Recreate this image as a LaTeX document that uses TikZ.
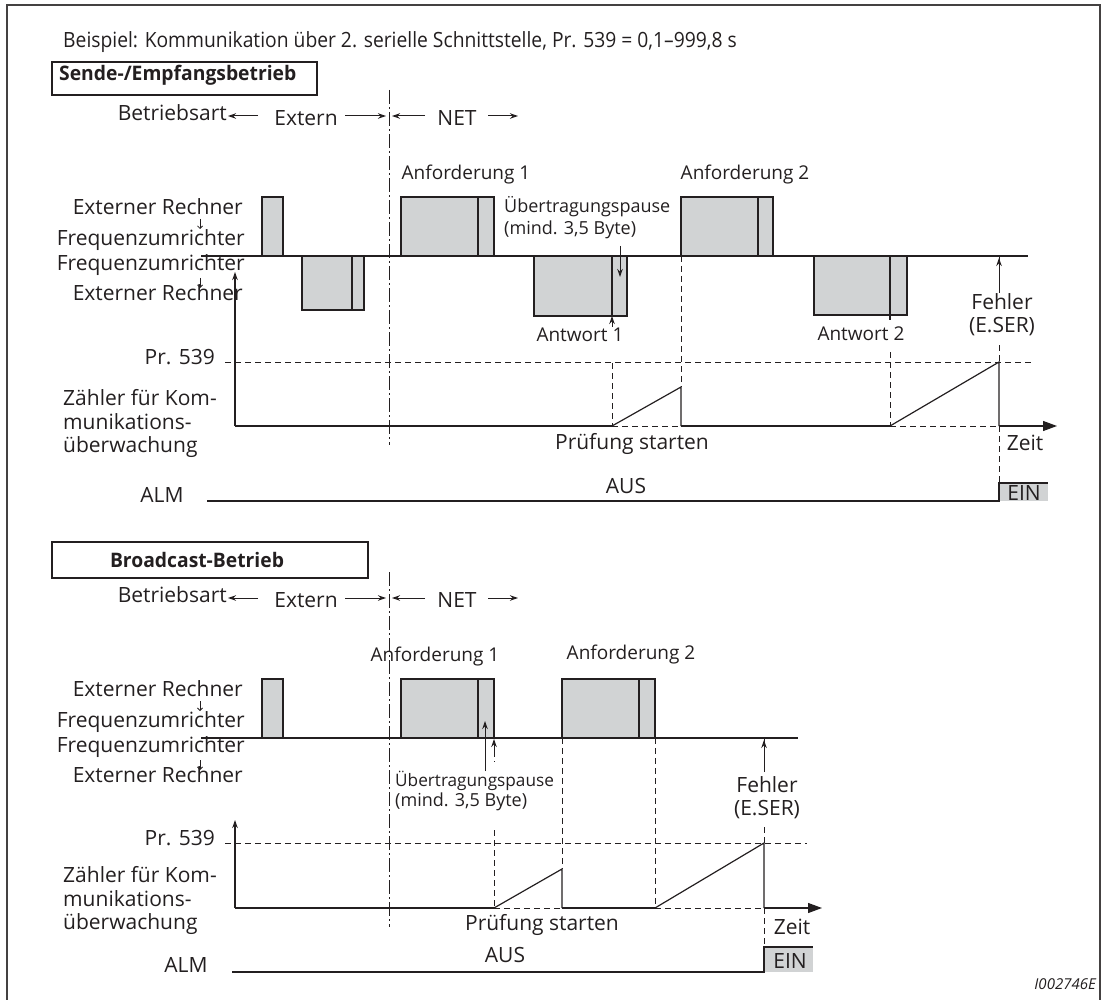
\documentclass[tikz,border=0pt]{standalone}
\usepackage{fontspec}
\setmainfont{Open Sans}
\usetikzlibrary{arrows.meta}
\definecolor{boxgray}{HTML}{D1D3D4}
\definecolor{ink}{HTML}{231F20}
\tikzset{
  sig/.style={draw=ink, line width=1.3pt, fill=boxgray},
  wire/.style={draw=ink, line width=1.2pt},
  dsh/.style={draw=ink, line width=1pt, dash pattern=on 6pt off 4pt},
  dashdot/.style={draw=ink, line width=1pt, dash pattern=on 14pt off 3pt on 2pt off 3pt},
  lbl/.style={font=\fontsize{21}{25}\selectfont, inner sep=0pt, text=ink},
  mlbl/.style={font=\fontsize{19}{23}\selectfont, inner sep=0pt, text=ink},
  sml/.style={font=\fontsize{18}{21}\selectfont, inner sep=0pt, text=ink},
  hdr/.style={font=\fontsize{20}{24}\selectfont\bfseries, inner sep=0pt, text=ink},
  arr/.style={-{Stealth[length=8pt,width=5.5pt]}, line width=1pt, draw=ink},
  tinyarr/.style={-{Straight Barb[length=2.5pt,width=5pt]}, line width=0.8pt, draw=ink},
  bigarr/.style={-{Triangle[length=14pt,width=10pt]}, line width=1.2pt, draw=ink},
  headbox/.style={draw=ink, line width=1.4pt}
}
\begin{document}
\begin{tikzpicture}[x=1pt,y=-1pt]
\useasboundingbox (0,0) rectangle (1103,1000);
% frame
\draw[draw=ink!85, line width=1.5pt] (7,1000) -- (7,5) -- (1100,5) -- (1100,1000);
% title
\node[lbl, anchor=mid west] (title) at (63,45) {\scalebox{0.918}[1]{Beispiel: Kommunikation über 2. serielle Schnittstelle, Pr. 539 = 0,1–999,8 s}};
% ================= UPPER =================
\draw[headbox] (52,62) rectangle (317,95);
\node[hdr, anchor=mid west] (h1) at (59,78) {\scalebox{0.965}[1]{Sende-/Empfangsbetrieb}};
% Betriebsart row
\node[lbl, anchor=mid east] (ba1) at (227,118) {Betriebsart};
\node[lbl] (ex1) at (306,118) {Extern};
\node[lbl] (net1) at (457,118) {NET};
\draw[arr] (258,116) -- (228,116);
\draw[arr] (345,116) -- (386,116);
\draw[arr] (425,116) -- (392,116);
\draw[arr] (488,116) -- (518,116);
\draw[dashdot] (389,90) -- (389,445);
% left labels
\node[lbl, anchor=mid east] (ext1) at (243,212) {Externer Rechner};
\node[lbl, anchor=mid east] (fu1) at (245,243) {Frequenzumrichter};
\node[lbl, anchor=mid east] (fu2) at (245,268) {Frequenzumrichter};
\node[lbl, anchor=mid east] (ext2) at (243,298) {Externer Rechner};
\draw[tinyarr] (200,219) -- (200,229);
\draw[tinyarr] (200,278) -- (200,288);
% signal boxes
\draw[sig] (262,197) rectangle (283,256);
\draw[sig] (302,256) rectangle (364,310); \draw[wire] (352,256) -- (352,310);
\draw[sig] (401,197) rectangle (494,256); \draw[wire] (478,197) -- (478,256);
\draw[sig] (534,256) rectangle (627,316); \draw[wire] (612,256) -- (612,316);
\draw[sig] (681,197) rectangle (773,256); \draw[wire] (758,197) -- (758,256);
\draw[sig] (814,256) rectangle (907,315); \draw[wire] (890,256) -- (890,320);
\draw[wire] (201,256) -- (1028,256);
% labels
\node[mlbl] (an1) at (466,175) {Anforderung 1};
\node[mlbl] (an2) at (745,175) {Anforderung 2};
\node[sml, anchor=mid west] (up1) at (504,210) {Übertragungspause};
\node[sml, anchor=mid west] (up1b) at (504,232) {(mind. 3,5 Byte)};
\draw[arr] (620,246) -- (620,277);
\draw[arr] (612,327) -- (612,316);
\node[mlbl] (aw1) at (580,335) {Antwort 1};
\node[mlbl] (aw2) at (861,334) {Antwort 2};
\node[lbl] (fe1) at (1002,302) {Fehler};
\node[lbl] (es1) at (1002,327) {(E.SER)};
\draw[dsh] (999,256) -- (999,262);
\draw[arr] (999,293) -- (999,258);
\draw[dsh] (999,345) -- (999,362);
% counter
\node[lbl, anchor=mid east] (pr1) at (215,362) {Pr. 539};
\node[lbl, anchor=mid west] (z1a) at (63,403) {Zähler für Kom-};
\node[lbl, anchor=mid west] (z1b) at (63,427) {munikations-};
\node[lbl, anchor=mid west] (z1c) at (63,450) {überwachung};
\draw[dsh] (225,362) -- (1033,362);
\draw[arr, line width=1.2pt] (235,426) -- (235,272);
\draw[wire] (235,426) -- (612,426);
\draw[dsh] (612,426) -- (681,426);
\draw[wire] (681,426) -- (890,426);
\draw[dsh] (890,426) -- (999,426);
\draw[bigarr] (999,426) -- (1057,426);
\draw[dsh] (612,363) -- (612,426);
\draw[dsh] (681,256) -- (681,387);
\draw[dsh] (890,352) -- (890,426);
\draw[wire] (612,426) -- (681,387) -- (681,426);
\draw[wire] (890,426) -- (999,362) -- (999,426);
\draw[dsh] (999,426) -- (999,483);
\node[lbl] (ps1) at (632,444) {Prüfung starten};
\node[lbl] (zt1) at (1025,443) {Zeit};
% ALM
\node[lbl] (alm1) at (162,495) {ALM};
\node[lbl] (aus1) at (626,486) {AUS};
\fill[boxgray] (999,483) rectangle (1048,501);
\draw[wire] (207,501) -- (999,501) -- (999,483) -- (1048,483);
\node[lbl] (ein1) at (1024,493) {EIN};
% ================= LOWER =================
\draw[headbox] (52,542) rectangle (368,578);
\node[hdr] (h2) at (197,560) {\scalebox{0.965}[1]{Broadcast-Betrieb}};
\node[lbl, anchor=mid east] (ba2) at (227,600) {Betriebsart};
\node[lbl] (ex2) at (306,600) {Extern};
\node[lbl] (net2) at (457,600) {NET};
\draw[arr] (258,598) -- (228,598);
\draw[arr] (345,598) -- (386,598);
\draw[arr] (425,598) -- (392,598);
\draw[arr] (488,598) -- (518,598);
\draw[dashdot] (389,572) -- (389,927);
\node[lbl, anchor=mid east] (ext3) at (243,694) {Externer Rechner};
\node[lbl, anchor=mid east] (fu3) at (245,725) {Frequenzumrichter};
\node[lbl, anchor=mid east] (fu4) at (245,750) {Frequenzumrichter};
\node[lbl, anchor=mid east] (ext4) at (243,780) {Externer Rechner};
\draw[tinyarr] (200,701) -- (200,711);
\draw[tinyarr] (200,760) -- (200,770);
\draw[sig] (262,679) rectangle (283,738);
\draw[sig] (401,679) rectangle (494,738); \draw[wire] (478,679) -- (478,738);
\draw[sig] (562,679) rectangle (655,738); \draw[wire] (639,679) -- (639,738);
\draw[wire] (201,738) -- (798,738);
\node[mlbl] (an3) at (435,657) {Anforderung 1};
\node[mlbl] (an4) at (631,655) {Anforderung 2};
\draw[arr] (485,771) -- (485,721);
\draw[arr] (494,751) -- (494,739);
\draw[dsh] (494,751) -- (494,762);
\node[sml, font=\fontsize{17.2}{21}\selectfont, anchor=mid west] (up2) at (395,784) {Übertragungspause};
\node[sml, anchor=mid west] (up2b) at (395,804) {(mind. 3,5 Byte)};
\node[lbl] (fe2) at (767,785) {Fehler};
\node[lbl] (es2) at (767,810) {(E.SER)};
\draw[dsh] (764,738) -- (764,744);
\draw[arr] (764,772) -- (764,740);
\draw[dsh] (764,827) -- (764,843);
% counter lower
\node[lbl, anchor=mid east] (pr2) at (215,843) {Pr. 539};
\node[lbl, anchor=mid west] (z2a) at (63,880) {Zähler für Kom-};
\node[lbl, anchor=mid west] (z2b) at (63,904) {munikations-};
\node[lbl, anchor=mid west] (z2c) at (63,927) {überwachung};
\draw[dsh] (225,843) -- (807,843);
\draw[arr, line width=1.2pt] (235,908) -- (235,820);
\draw[wire] (235,908) -- (494,908);
\draw[dsh] (494,908) -- (562,908);
\draw[wire] (562,908) -- (655,908);
\draw[dsh] (655,908) -- (764,908);
\draw[bigarr] (764,908) -- (822,908);
\draw[dsh] (494,830) -- (494,908);
\draw[dsh] (562,738) -- (562,869);
\draw[dsh] (655,738) -- (655,908);
\draw[wire] (494,908) -- (562,869) -- (562,908);
\draw[wire] (655,908) -- (764,843) -- (764,908);
\draw[dsh] (764,908) -- (764,947);
\node[lbl] (ps2) at (542,925) {Prüfung starten};
\node[lbl] (zt2) at (792,927) {Zeit};
\node[lbl] (alm2) at (186,965) {ALM};
\node[lbl] (aus2) at (505,955) {AUS};
\fill[boxgray] (764,947) rectangle (813,972);
\draw[wire] (232,972) -- (764,972) -- (764,947) -- (813,947);
\node[lbl] (ein2) at (790,961) {EIN};
\node[sml, font=\fontsize{15}{17}\selectfont\itshape, anchor=mid east] (id) at (1096,987) {I002746E};
\end{tikzpicture}
\end{document}
